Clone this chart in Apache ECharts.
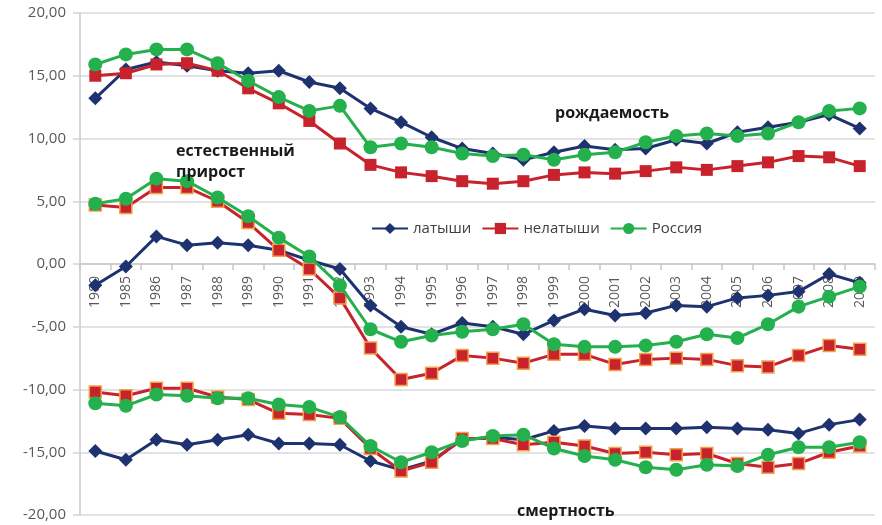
<!DOCTYPE html>
<html>
<head>
<meta charset="utf-8">
<script src="https://cdn.jsdelivr.net/npm/echarts@6/dist/echarts.min.js"></script>
<style>html,body{margin:0;padding:0;background:#fff}#c{width:882px;height:525px}</style>
</head>
<body>
<div id="c"></div>
<script>
// Categories (years)
const years = ['1980','1985','1986','1987','1988','1989','1990','1991','1992','1993','1994','1995','1996','1997','1998','1999','2000','2001','2002','2003','2004','2005','2006','2007','2008','2009'];

// Y-axis ticks
const yTicks = [-20, -15, -10, -5, 0, 5, 10, 15, 20];

// Legend names
const seriesNames = ['латыши', 'нелатыши', 'Россия'];

// Births (рождаемость)
const birthLatv    = [13.2, 15.5, 16.1, 15.8, 15.4, 15.2, 15.4, 14.5, 14.0, 12.4, 11.3, 10.1, 9.2, 8.8, 8.3, 8.9, 9.4, 9.1, 9.2, 9.9, 9.6, 10.5, 10.9, 11.3, 11.9, 10.8];
const birthNonLatv = [15.0, 15.2, 15.9, 16.0, 15.4, 14.0, 12.8, 11.4, 9.6, 7.9, 7.3, 7.0, 6.6, 6.4, 6.6, 7.1, 7.3, 7.2, 7.4, 7.7, 7.5, 7.8, 8.1, 8.6, 8.5, 7.8];
const birthRussia  = [15.9, 16.7, 17.1, 17.1, 16.0, 14.6, 13.3, 12.2, 12.6, 9.3, 9.6, 9.3, 8.8, 8.6, 8.7, 8.3, 8.7, 8.9, 9.7, 10.2, 10.4, 10.2, 10.4, 11.3, 12.2, 12.4];

// Natural growth (естественный прирост)
const growLatv    = [-1.7, -0.2, 2.2, 1.5, 1.7, 1.5, 1.1, 0.3, -0.4, -3.3, -5.0, -5.6, -4.7, -5.0, -5.6, -4.5, -3.6, -4.1, -3.9, -3.3, -3.4, -2.7, -2.5, -2.2, -0.8, -1.5];
const growNonLatv = [4.7, 4.5, 6.1, 6.1, 5.0, 3.3, 1.1, -0.4, -2.7, -6.7, -9.2, -8.7, -7.3, -7.5, -7.9, -7.2, -7.2, -8.0, -7.6, -7.5, -7.6, -8.1, -8.2, -7.3, -6.5, -6.8];
const growRussia  = [4.8, 5.2, 6.8, 6.6, 5.3, 3.8, 2.1, 0.6, -1.7, -5.2, -6.2, -5.7, -5.4, -5.2, -4.8, -6.4, -6.6, -6.6, -6.5, -6.2, -5.6, -5.9, -4.8, -3.4, -2.6, -1.8];

// Deaths (смертность), shown negative
const deathLatv    = [-14.9, -15.6, -14.0, -14.4, -14.0, -13.6, -14.3, -14.3, -14.4, -15.7, -16.4, -15.7, -14.0, -13.8, -14.0, -13.3, -12.9, -13.1, -13.1, -13.1, -13.0, -13.1, -13.2, -13.5, -12.8, -12.4];
const deathNonLatv = [-10.2, -10.5, -9.9, -9.9, -10.6, -10.8, -11.9, -12.0, -12.3, -14.7, -16.5, -15.8, -13.9, -13.9, -14.4, -14.2, -14.5, -15.1, -15.0, -15.2, -15.1, -15.9, -16.2, -15.9, -15.0, -14.5];
const deathRussia  = [-11.1, -11.3, -10.4, -10.5, -10.7, -10.7, -11.2, -11.4, -12.2, -14.5, -15.8, -15.0, -14.1, -13.7, -13.6, -14.7, -15.3, -15.6, -16.2, -16.4, -16.0, -16.1, -15.2, -14.6, -14.6, -14.2];

const annotations = [
  {text: 'рождаемость', x: 555, y: 103},
  {text: 'естественный\nприрост', x: 176, y: 141},
  {text: 'смертность', x: 517, y: 501}
];

const NAVY = '#1F3270', RED = '#C8232C', GREEN = '#23B04D';
const FONT = '"Open Sans", "Noto Sans", sans-serif';

const GRID_TOP = 13, GRID_BOTTOM = 10, CHART_H = 525;

function mk(idx, data, orangeBorder) {
  const cfg = [
    {color: NAVY, symbol: 'diamond', size: 14},
    {color: RED, symbol: 'rect', size: 12},
    {color: GREEN, symbol: 'circle', size: 14}
  ][idx];
  return {
    name: seriesNames[idx],
    type: 'line',
    data: data,
    symbol: cfg.symbol,
    symbolSize: cfg.size,
    showAllSymbol: true,
    lineStyle: {color: cfg.color, width: 3},
    itemStyle: {color: cfg.color, borderColor: orangeBorder ? '#F3A24C' : cfg.color, borderWidth: orangeBorder ? 1.5 : 0, opacity: 1},
    z: 2 + idx
  };
}

// x axis sits at value 0: offset from the grid bottom by the fraction of the y range below zero
const yMin = yTicks[0], yMax = yTicks[yTicks.length - 1];
const gridH = CHART_H - GRID_TOP - GRID_BOTTOM;
const zeroOffset = -gridH * (0 - yMin) / (yMax - yMin);

const chart = echarts.init(document.getElementById('c'), null, {renderer: 'canvas'});
chart.setOption({
  animation: false,
  backgroundColor: '#fff',
  grid: {left: 80, right: 7, top: GRID_TOP, bottom: GRID_BOTTOM, containLabel: false, outerBoundsMode: 'none'},
  legend: {
    data: seriesNames,
    left: 371, top: 221, padding: 0,
    itemWidth: 36, itemHeight: 14, itemGap: 10,
    textStyle: {fontFamily: FONT, fontSize: 15, color: '#404040'}
  },
  xAxis: {
    type: 'category',
    data: years,
    boundaryGap: true,
    position: 'bottom',
    offset: zeroOffset,
    z: 1,
    axisLine: {onZero: false, lineStyle: {color: '#c8c8c8', width: 1.5}},
    axisTick: {show: true, length: 6, lineStyle: {color: '#c8c8c8', width: 1.5}},
    axisLabel: {rotate: 90, margin: 12, fontFamily: FONT, fontSize: 14, color: '#595959', interval: 0},
    splitLine: {show: false}
  },
  yAxis: {
    type: 'value',
    min: yMin, max: yMax, interval: 5,
    axisLine: {show: true, lineStyle: {color: '#c8c8c8', width: 1.5}},
    axisTick: {show: true, length: 7, lineStyle: {color: '#d4d4d4', width: 1.5}},
    axisLabel: {fontFamily: FONT, fontSize: 15, color: '#595959', margin: 14,
      formatter: v => v.toFixed(2).replace('.', ',')},
    splitLine: {lineStyle: {color: '#d9d9d9', width: 1.5}}
  },
  graphic: annotations.map(a => ({
    type: 'text', left: a.x, top: a.y, z: 100,
    style: {text: a.text, font: 'bold 16px ' + FONT, fill: '#1a1a1a', lineHeight: 21}
  })),
  series: [
    mk(0, birthLatv), mk(1, birthNonLatv), mk(2, birthRussia),
    mk(0, growLatv), mk(1, growNonLatv, true), mk(2, growRussia),
    mk(0, deathLatv), mk(1, deathNonLatv, true), mk(2, deathRussia)
  ]
});
</script>
</body>
</html>
